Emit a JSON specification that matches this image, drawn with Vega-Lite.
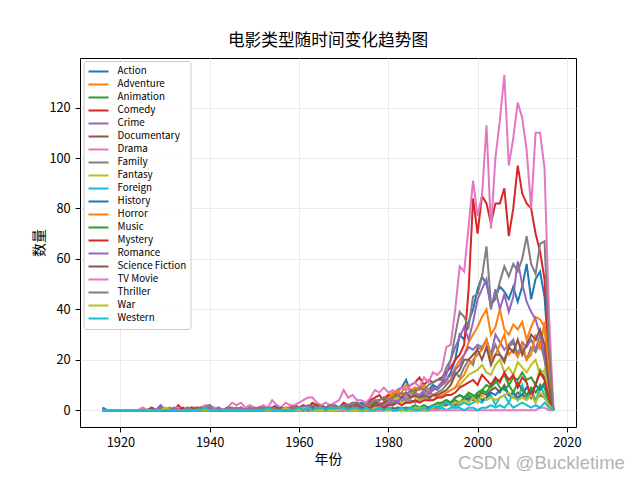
{
"$schema":"https://vega.github.io/schema/vega-lite/v6.json",
"width":496,"height":369,
"autosize":{"type":"none"},
"padding":{"left":80,"top":58,"right":64,"bottom":53},
"background":"white",
"title":{"text":"电影类型随时间变化趋势图","font":"Noto Sans CJK SC","fontSize":16.7,"fontWeight":"normal","color":"black","offset":8,"anchor":"middle"},
"config":{
"view":{"stroke":"black","strokeWidth":1},
"axis":{"domain":false,"tickColor":"black","tickSize":4.9,"tickWidth":1,"labelPadding":4.9,"labelFont":"Noto Sans CJK SC","labelFontSize":12.8,"labelColor":"black","titleFont":"Noto Sans CJK SC","titleFontSize":13.9,"titleFontWeight":"normal","titleColor":"black","gridColor":"#e6e6e6","gridWidth":0.8}
},
"layer":[
{
"data":{"values":[
{"g":"Action","t":1916,"n":0},{"g":"Action","t":1917,"n":0},{"g":"Action","t":1918,"n":0},{"g":"Action","t":1919,"n":0},{"g":"Action","t":1920,"n":0},{"g":"Action","t":1921,"n":0},{"g":"Action","t":1922,"n":0},{"g":"Action","t":1923,"n":0},{"g":"Action","t":1924,"n":0},{"g":"Action","t":1925,"n":0},{"g":"Action","t":1926,"n":0},{"g":"Action","t":1927,"n":0},{"g":"Action","t":1928,"n":0},{"g":"Action","t":1929,"n":0},{"g":"Action","t":1930,"n":0},{"g":"Action","t":1931,"n":0},{"g":"Action","t":1932,"n":0},{"g":"Action","t":1933,"n":0},{"g":"Action","t":1934,"n":0},{"g":"Action","t":1935,"n":0},{"g":"Action","t":1936,"n":0},{"g":"Action","t":1937,"n":0},{"g":"Action","t":1938,"n":0},{"g":"Action","t":1939,"n":0},{"g":"Action","t":1940,"n":0},{"g":"Action","t":1941,"n":0},{"g":"Action","t":1942,"n":0},{"g":"Action","t":1943,"n":0},{"g":"Action","t":1944,"n":0},{"g":"Action","t":1945,"n":0},{"g":"Action","t":1946,"n":0},{"g":"Action","t":1947,"n":0},{"g":"Action","t":1948,"n":0},{"g":"Action","t":1949,"n":0},{"g":"Action","t":1950,"n":0},{"g":"Action","t":1951,"n":0},{"g":"Action","t":1952,"n":0},{"g":"Action","t":1953,"n":0},{"g":"Action","t":1954,"n":1},{"g":"Action","t":1955,"n":0},{"g":"Action","t":1956,"n":0},{"g":"Action","t":1957,"n":0},{"g":"Action","t":1958,"n":0},{"g":"Action","t":1959,"n":1},{"g":"Action","t":1960,"n":1},{"g":"Action","t":1961,"n":0},{"g":"Action","t":1962,"n":1},{"g":"Action","t":1963,"n":1},{"g":"Action","t":1964,"n":2},{"g":"Action","t":1965,"n":1},{"g":"Action","t":1966,"n":1},{"g":"Action","t":1967,"n":2},{"g":"Action","t":1968,"n":1},{"g":"Action","t":1969,"n":1},{"g":"Action","t":1970,"n":1},{"g":"Action","t":1971,"n":2},{"g":"Action","t":1972,"n":2},{"g":"Action","t":1973,"n":2},{"g":"Action","t":1974,"n":3},{"g":"Action","t":1975,"n":2},{"g":"Action","t":1976,"n":3},{"g":"Action","t":1977,"n":3},{"g":"Action","t":1978,"n":4},{"g":"Action","t":1979,"n":5},{"g":"Action","t":1980,"n":5},{"g":"Action","t":1981,"n":6},{"g":"Action","t":1982,"n":8},{"g":"Action","t":1983,"n":9},{"g":"Action","t":1984,"n":12},{"g":"Action","t":1985,"n":7},{"g":"Action","t":1986,"n":8},{"g":"Action","t":1987,"n":9},{"g":"Action","t":1988,"n":10},{"g":"Action","t":1989,"n":8},{"g":"Action","t":1990,"n":10},{"g":"Action","t":1991,"n":9},{"g":"Action","t":1992,"n":11},{"g":"Action","t":1993,"n":12},{"g":"Action","t":1994,"n":15},{"g":"Action","t":1995,"n":20},{"g":"Action","t":1996,"n":30},{"g":"Action","t":1997,"n":28},{"g":"Action","t":1998,"n":35},{"g":"Action","t":1999,"n":40},{"g":"Action","t":2000,"n":48},{"g":"Action","t":2001,"n":53},{"g":"Action","t":2002,"n":50},{"g":"Action","t":2003,"n":42},{"g":"Action","t":2004,"n":45},{"g":"Action","t":2005,"n":49},{"g":"Action","t":2006,"n":47},{"g":"Action","t":2007,"n":44},{"g":"Action","t":2008,"n":49},{"g":"Action","t":2009,"n":43},{"g":"Action","t":2010,"n":49},{"g":"Action","t":2011,"n":58},{"g":"Action","t":2012,"n":44},{"g":"Action","t":2013,"n":52},{"g":"Action","t":2014,"n":55},{"g":"Action","t":2015,"n":45},{"g":"Action","t":2016,"n":20},{"g":"Action","t":2017,"n":0},
{"g":"Adventure","t":1916,"n":0},{"g":"Adventure","t":1917,"n":0},{"g":"Adventure","t":1918,"n":0},{"g":"Adventure","t":1919,"n":0},{"g":"Adventure","t":1920,"n":0},{"g":"Adventure","t":1921,"n":0},{"g":"Adventure","t":1922,"n":0},{"g":"Adventure","t":1923,"n":0},{"g":"Adventure","t":1924,"n":0},{"g":"Adventure","t":1925,"n":1},{"g":"Adventure","t":1926,"n":0},{"g":"Adventure","t":1927,"n":0},{"g":"Adventure","t":1928,"n":0},{"g":"Adventure","t":1929,"n":0},{"g":"Adventure","t":1930,"n":0},{"g":"Adventure","t":1931,"n":0},{"g":"Adventure","t":1932,"n":0},{"g":"Adventure","t":1933,"n":1},{"g":"Adventure","t":1934,"n":0},{"g":"Adventure","t":1935,"n":0},{"g":"Adventure","t":1936,"n":0},{"g":"Adventure","t":1937,"n":1},{"g":"Adventure","t":1938,"n":1},{"g":"Adventure","t":1939,"n":1},{"g":"Adventure","t":1940,"n":1},{"g":"Adventure","t":1941,"n":0},{"g":"Adventure","t":1942,"n":0},{"g":"Adventure","t":1943,"n":0},{"g":"Adventure","t":1944,"n":0},{"g":"Adventure","t":1945,"n":0},{"g":"Adventure","t":1946,"n":0},{"g":"Adventure","t":1947,"n":0},{"g":"Adventure","t":1948,"n":0},{"g":"Adventure","t":1949,"n":0},{"g":"Adventure","t":1950,"n":0},{"g":"Adventure","t":1951,"n":1},{"g":"Adventure","t":1952,"n":0},{"g":"Adventure","t":1953,"n":1},{"g":"Adventure","t":1954,"n":0},{"g":"Adventure","t":1955,"n":0},{"g":"Adventure","t":1956,"n":1},{"g":"Adventure","t":1957,"n":0},{"g":"Adventure","t":1958,"n":0},{"g":"Adventure","t":1959,"n":1},{"g":"Adventure","t":1960,"n":1},{"g":"Adventure","t":1961,"n":1},{"g":"Adventure","t":1962,"n":1},{"g":"Adventure","t":1963,"n":2},{"g":"Adventure","t":1964,"n":2},{"g":"Adventure","t":1965,"n":1},{"g":"Adventure","t":1966,"n":1},{"g":"Adventure","t":1967,"n":1},{"g":"Adventure","t":1968,"n":1},{"g":"Adventure","t":1969,"n":1},{"g":"Adventure","t":1970,"n":2},{"g":"Adventure","t":1971,"n":1},{"g":"Adventure","t":1972,"n":2},{"g":"Adventure","t":1973,"n":2},{"g":"Adventure","t":1974,"n":2},{"g":"Adventure","t":1975,"n":2},{"g":"Adventure","t":1976,"n":3},{"g":"Adventure","t":1977,"n":4},{"g":"Adventure","t":1978,"n":4},{"g":"Adventure","t":1979,"n":5},{"g":"Adventure","t":1980,"n":6},{"g":"Adventure","t":1981,"n":7},{"g":"Adventure","t":1982,"n":6},{"g":"Adventure","t":1983,"n":7},{"g":"Adventure","t":1984,"n":10},{"g":"Adventure","t":1985,"n":8},{"g":"Adventure","t":1986,"n":9},{"g":"Adventure","t":1987,"n":8},{"g":"Adventure","t":1988,"n":9},{"g":"Adventure","t":1989,"n":7},{"g":"Adventure","t":1990,"n":8},{"g":"Adventure","t":1991,"n":9},{"g":"Adventure","t":1992,"n":10},{"g":"Adventure","t":1993,"n":11},{"g":"Adventure","t":1994,"n":12},{"g":"Adventure","t":1995,"n":17},{"g":"Adventure","t":1996,"n":20},{"g":"Adventure","t":1997,"n":22},{"g":"Adventure","t":1998,"n":27},{"g":"Adventure","t":1999,"n":30},{"g":"Adventure","t":2000,"n":33},{"g":"Adventure","t":2001,"n":37},{"g":"Adventure","t":2002,"n":40},{"g":"Adventure","t":2003,"n":30},{"g":"Adventure","t":2004,"n":33},{"g":"Adventure","t":2005,"n":40},{"g":"Adventure","t":2006,"n":32},{"g":"Adventure","t":2007,"n":30},{"g":"Adventure","t":2008,"n":34},{"g":"Adventure","t":2009,"n":32},{"g":"Adventure","t":2010,"n":35},{"g":"Adventure","t":2011,"n":28},{"g":"Adventure","t":2012,"n":33},{"g":"Adventure","t":2013,"n":37},{"g":"Adventure","t":2014,"n":36},{"g":"Adventure","t":2015,"n":33},{"g":"Adventure","t":2016,"n":12},{"g":"Adventure","t":2017,"n":0},
{"g":"Animation","t":1916,"n":0},{"g":"Animation","t":1917,"n":0},{"g":"Animation","t":1918,"n":0},{"g":"Animation","t":1919,"n":0},{"g":"Animation","t":1920,"n":0},{"g":"Animation","t":1921,"n":0},{"g":"Animation","t":1922,"n":0},{"g":"Animation","t":1923,"n":0},{"g":"Animation","t":1924,"n":0},{"g":"Animation","t":1925,"n":0},{"g":"Animation","t":1926,"n":0},{"g":"Animation","t":1927,"n":0},{"g":"Animation","t":1928,"n":0},{"g":"Animation","t":1929,"n":0},{"g":"Animation","t":1930,"n":0},{"g":"Animation","t":1931,"n":0},{"g":"Animation","t":1932,"n":0},{"g":"Animation","t":1933,"n":0},{"g":"Animation","t":1934,"n":0},{"g":"Animation","t":1935,"n":0},{"g":"Animation","t":1936,"n":0},{"g":"Animation","t":1937,"n":1},{"g":"Animation","t":1938,"n":0},{"g":"Animation","t":1939,"n":0},{"g":"Animation","t":1940,"n":1},{"g":"Animation","t":1941,"n":0},{"g":"Animation","t":1942,"n":0},{"g":"Animation","t":1943,"n":0},{"g":"Animation","t":1944,"n":0},{"g":"Animation","t":1945,"n":0},{"g":"Animation","t":1946,"n":0},{"g":"Animation","t":1947,"n":0},{"g":"Animation","t":1948,"n":0},{"g":"Animation","t":1949,"n":0},{"g":"Animation","t":1950,"n":1},{"g":"Animation","t":1951,"n":0},{"g":"Animation","t":1952,"n":0},{"g":"Animation","t":1953,"n":1},{"g":"Animation","t":1954,"n":0},{"g":"Animation","t":1955,"n":1},{"g":"Animation","t":1956,"n":0},{"g":"Animation","t":1957,"n":0},{"g":"Animation","t":1958,"n":0},{"g":"Animation","t":1959,"n":1},{"g":"Animation","t":1960,"n":0},{"g":"Animation","t":1961,"n":1},{"g":"Animation","t":1962,"n":0},{"g":"Animation","t":1963,"n":0},{"g":"Animation","t":1964,"n":0},{"g":"Animation","t":1965,"n":0},{"g":"Animation","t":1966,"n":0},{"g":"Animation","t":1967,"n":1},{"g":"Animation","t":1968,"n":0},{"g":"Animation","t":1969,"n":0},{"g":"Animation","t":1970,"n":0},{"g":"Animation","t":1971,"n":0},{"g":"Animation","t":1972,"n":0},{"g":"Animation","t":1973,"n":1},{"g":"Animation","t":1974,"n":0},{"g":"Animation","t":1975,"n":0},{"g":"Animation","t":1976,"n":0},{"g":"Animation","t":1977,"n":1},{"g":"Animation","t":1978,"n":1},{"g":"Animation","t":1979,"n":0},{"g":"Animation","t":1980,"n":1},{"g":"Animation","t":1981,"n":0},{"g":"Animation","t":1982,"n":1},{"g":"Animation","t":1983,"n":0},{"g":"Animation","t":1984,"n":1},{"g":"Animation","t":1985,"n":1},{"g":"Animation","t":1986,"n":2},{"g":"Animation","t":1987,"n":1},{"g":"Animation","t":1988,"n":2},{"g":"Animation","t":1989,"n":1},{"g":"Animation","t":1990,"n":2},{"g":"Animation","t":1991,"n":1},{"g":"Animation","t":1992,"n":2},{"g":"Animation","t":1993,"n":2},{"g":"Animation","t":1994,"n":3},{"g":"Animation","t":1995,"n":4},{"g":"Animation","t":1996,"n":3},{"g":"Animation","t":1997,"n":5},{"g":"Animation","t":1998,"n":6},{"g":"Animation","t":1999,"n":5},{"g":"Animation","t":2000,"n":7},{"g":"Animation","t":2001,"n":8},{"g":"Animation","t":2002,"n":10},{"g":"Animation","t":2003,"n":9},{"g":"Animation","t":2004,"n":11},{"g":"Animation","t":2005,"n":12},{"g":"Animation","t":2006,"n":14},{"g":"Animation","t":2007,"n":10},{"g":"Animation","t":2008,"n":13},{"g":"Animation","t":2009,"n":12},{"g":"Animation","t":2010,"n":15},{"g":"Animation","t":2011,"n":12},{"g":"Animation","t":2012,"n":13},{"g":"Animation","t":2013,"n":10},{"g":"Animation","t":2014,"n":16},{"g":"Animation","t":2015,"n":13},{"g":"Animation","t":2016,"n":5},{"g":"Animation","t":2017,"n":0},
{"g":"Comedy","t":1916,"n":0},{"g":"Comedy","t":1917,"n":0},{"g":"Comedy","t":1918,"n":0},{"g":"Comedy","t":1919,"n":0},{"g":"Comedy","t":1920,"n":0},{"g":"Comedy","t":1921,"n":0},{"g":"Comedy","t":1922,"n":0},{"g":"Comedy","t":1923,"n":0},{"g":"Comedy","t":1924,"n":0},{"g":"Comedy","t":1925,"n":0},{"g":"Comedy","t":1926,"n":0},{"g":"Comedy","t":1927,"n":0},{"g":"Comedy","t":1928,"n":0},{"g":"Comedy","t":1929,"n":0},{"g":"Comedy","t":1930,"n":0},{"g":"Comedy","t":1931,"n":0},{"g":"Comedy","t":1932,"n":0},{"g":"Comedy","t":1933,"n":2},{"g":"Comedy","t":1934,"n":0},{"g":"Comedy","t":1935,"n":0},{"g":"Comedy","t":1936,"n":1},{"g":"Comedy","t":1937,"n":1},{"g":"Comedy","t":1938,"n":1},{"g":"Comedy","t":1939,"n":0},{"g":"Comedy","t":1940,"n":1},{"g":"Comedy","t":1941,"n":0},{"g":"Comedy","t":1942,"n":1},{"g":"Comedy","t":1943,"n":0},{"g":"Comedy","t":1944,"n":1},{"g":"Comedy","t":1945,"n":0},{"g":"Comedy","t":1946,"n":0},{"g":"Comedy","t":1947,"n":1},{"g":"Comedy","t":1948,"n":0},{"g":"Comedy","t":1949,"n":1},{"g":"Comedy","t":1950,"n":0},{"g":"Comedy","t":1951,"n":1},{"g":"Comedy","t":1952,"n":1},{"g":"Comedy","t":1953,"n":1},{"g":"Comedy","t":1954,"n":1},{"g":"Comedy","t":1955,"n":2},{"g":"Comedy","t":1956,"n":0},{"g":"Comedy","t":1957,"n":1},{"g":"Comedy","t":1958,"n":1},{"g":"Comedy","t":1959,"n":2},{"g":"Comedy","t":1960,"n":1},{"g":"Comedy","t":1961,"n":2},{"g":"Comedy","t":1962,"n":1},{"g":"Comedy","t":1963,"n":3},{"g":"Comedy","t":1964,"n":2},{"g":"Comedy","t":1965,"n":2},{"g":"Comedy","t":1966,"n":1},{"g":"Comedy","t":1967,"n":2},{"g":"Comedy","t":1968,"n":2},{"g":"Comedy","t":1969,"n":1},{"g":"Comedy","t":1970,"n":3},{"g":"Comedy","t":1971,"n":2},{"g":"Comedy","t":1972,"n":2},{"g":"Comedy","t":1973,"n":3},{"g":"Comedy","t":1974,"n":2},{"g":"Comedy","t":1975,"n":2},{"g":"Comedy","t":1976,"n":4},{"g":"Comedy","t":1977,"n":5},{"g":"Comedy","t":1978,"n":6},{"g":"Comedy","t":1979,"n":4},{"g":"Comedy","t":1980,"n":6},{"g":"Comedy","t":1981,"n":5},{"g":"Comedy","t":1982,"n":7},{"g":"Comedy","t":1983,"n":9},{"g":"Comedy","t":1984,"n":8},{"g":"Comedy","t":1985,"n":10},{"g":"Comedy","t":1986,"n":11},{"g":"Comedy","t":1987,"n":13},{"g":"Comedy","t":1988,"n":10},{"g":"Comedy","t":1989,"n":12},{"g":"Comedy","t":1990,"n":11},{"g":"Comedy","t":1991,"n":12},{"g":"Comedy","t":1992,"n":13},{"g":"Comedy","t":1993,"n":15},{"g":"Comedy","t":1994,"n":17},{"g":"Comedy","t":1995,"n":20},{"g":"Comedy","t":1996,"n":22},{"g":"Comedy","t":1997,"n":26},{"g":"Comedy","t":1998,"n":48},{"g":"Comedy","t":1999,"n":84},{"g":"Comedy","t":2000,"n":70},{"g":"Comedy","t":2001,"n":85},{"g":"Comedy","t":2002,"n":82},{"g":"Comedy","t":2003,"n":74},{"g":"Comedy","t":2004,"n":82},{"g":"Comedy","t":2005,"n":82},{"g":"Comedy","t":2006,"n":88},{"g":"Comedy","t":2007,"n":69},{"g":"Comedy","t":2008,"n":80},{"g":"Comedy","t":2009,"n":97},{"g":"Comedy","t":2010,"n":86},{"g":"Comedy","t":2011,"n":82},{"g":"Comedy","t":2012,"n":80},{"g":"Comedy","t":2013,"n":70},{"g":"Comedy","t":2014,"n":63},{"g":"Comedy","t":2015,"n":52},{"g":"Comedy","t":2016,"n":20},{"g":"Comedy","t":2017,"n":0},
{"g":"Crime","t":1916,"n":0},{"g":"Crime","t":1917,"n":0},{"g":"Crime","t":1918,"n":0},{"g":"Crime","t":1919,"n":0},{"g":"Crime","t":1920,"n":0},{"g":"Crime","t":1921,"n":0},{"g":"Crime","t":1922,"n":0},{"g":"Crime","t":1923,"n":0},{"g":"Crime","t":1924,"n":0},{"g":"Crime","t":1925,"n":0},{"g":"Crime","t":1926,"n":0},{"g":"Crime","t":1927,"n":0},{"g":"Crime","t":1928,"n":0},{"g":"Crime","t":1929,"n":2},{"g":"Crime","t":1930,"n":0},{"g":"Crime","t":1931,"n":1},{"g":"Crime","t":1932,"n":0},{"g":"Crime","t":1933,"n":0},{"g":"Crime","t":1934,"n":0},{"g":"Crime","t":1935,"n":0},{"g":"Crime","t":1936,"n":1},{"g":"Crime","t":1937,"n":0},{"g":"Crime","t":1938,"n":0},{"g":"Crime","t":1939,"n":0},{"g":"Crime","t":1940,"n":1},{"g":"Crime","t":1941,"n":0},{"g":"Crime","t":1942,"n":0},{"g":"Crime","t":1943,"n":0},{"g":"Crime","t":1944,"n":1},{"g":"Crime","t":1945,"n":0},{"g":"Crime","t":1946,"n":1},{"g":"Crime","t":1947,"n":0},{"g":"Crime","t":1948,"n":0},{"g":"Crime","t":1949,"n":1},{"g":"Crime","t":1950,"n":0},{"g":"Crime","t":1951,"n":0},{"g":"Crime","t":1952,"n":1},{"g":"Crime","t":1953,"n":0},{"g":"Crime","t":1954,"n":0},{"g":"Crime","t":1955,"n":1},{"g":"Crime","t":1956,"n":0},{"g":"Crime","t":1957,"n":1},{"g":"Crime","t":1958,"n":0},{"g":"Crime","t":1959,"n":0},{"g":"Crime","t":1960,"n":0},{"g":"Crime","t":1961,"n":1},{"g":"Crime","t":1962,"n":0},{"g":"Crime","t":1963,"n":1},{"g":"Crime","t":1964,"n":1},{"g":"Crime","t":1965,"n":0},{"g":"Crime","t":1966,"n":1},{"g":"Crime","t":1967,"n":1},{"g":"Crime","t":1968,"n":1},{"g":"Crime","t":1969,"n":0},{"g":"Crime","t":1970,"n":2},{"g":"Crime","t":1971,"n":2},{"g":"Crime","t":1972,"n":3},{"g":"Crime","t":1973,"n":3},{"g":"Crime","t":1974,"n":2},{"g":"Crime","t":1975,"n":2},{"g":"Crime","t":1976,"n":2},{"g":"Crime","t":1977,"n":3},{"g":"Crime","t":1978,"n":3},{"g":"Crime","t":1979,"n":2},{"g":"Crime","t":1980,"n":3},{"g":"Crime","t":1981,"n":3},{"g":"Crime","t":1982,"n":4},{"g":"Crime","t":1983,"n":5},{"g":"Crime","t":1984,"n":5},{"g":"Crime","t":1985,"n":6},{"g":"Crime","t":1986,"n":7},{"g":"Crime","t":1987,"n":6},{"g":"Crime","t":1988,"n":8},{"g":"Crime","t":1989,"n":7},{"g":"Crime","t":1990,"n":9},{"g":"Crime","t":1991,"n":8},{"g":"Crime","t":1992,"n":10},{"g":"Crime","t":1993,"n":12},{"g":"Crime","t":1994,"n":14},{"g":"Crime","t":1995,"n":16},{"g":"Crime","t":1996,"n":18},{"g":"Crime","t":1997,"n":22},{"g":"Crime","t":1998,"n":25},{"g":"Crime","t":1999,"n":24},{"g":"Crime","t":2000,"n":26},{"g":"Crime","t":2001,"n":25},{"g":"Crime","t":2002,"n":28},{"g":"Crime","t":2003,"n":22},{"g":"Crime","t":2004,"n":30},{"g":"Crime","t":2005,"n":27},{"g":"Crime","t":2006,"n":24},{"g":"Crime","t":2007,"n":26},{"g":"Crime","t":2008,"n":28},{"g":"Crime","t":2009,"n":22},{"g":"Crime","t":2010,"n":27},{"g":"Crime","t":2011,"n":25},{"g":"Crime","t":2012,"n":28},{"g":"Crime","t":2013,"n":24},{"g":"Crime","t":2014,"n":30},{"g":"Crime","t":2015,"n":26},{"g":"Crime","t":2016,"n":10},{"g":"Crime","t":2017,"n":0},
{"g":"Documentary","t":1916,"n":0},{"g":"Documentary","t":1917,"n":0},{"g":"Documentary","t":1918,"n":0},{"g":"Documentary","t":1919,"n":0},{"g":"Documentary","t":1920,"n":0},{"g":"Documentary","t":1921,"n":0},{"g":"Documentary","t":1922,"n":0},{"g":"Documentary","t":1923,"n":0},{"g":"Documentary","t":1924,"n":0},{"g":"Documentary","t":1925,"n":0},{"g":"Documentary","t":1926,"n":0},{"g":"Documentary","t":1927,"n":0},{"g":"Documentary","t":1928,"n":0},{"g":"Documentary","t":1929,"n":0},{"g":"Documentary","t":1930,"n":0},{"g":"Documentary","t":1931,"n":0},{"g":"Documentary","t":1932,"n":0},{"g":"Documentary","t":1933,"n":0},{"g":"Documentary","t":1934,"n":0},{"g":"Documentary","t":1935,"n":0},{"g":"Documentary","t":1936,"n":0},{"g":"Documentary","t":1937,"n":0},{"g":"Documentary","t":1938,"n":0},{"g":"Documentary","t":1939,"n":0},{"g":"Documentary","t":1940,"n":0},{"g":"Documentary","t":1941,"n":0},{"g":"Documentary","t":1942,"n":0},{"g":"Documentary","t":1943,"n":0},{"g":"Documentary","t":1944,"n":0},{"g":"Documentary","t":1945,"n":0},{"g":"Documentary","t":1946,"n":0},{"g":"Documentary","t":1947,"n":0},{"g":"Documentary","t":1948,"n":0},{"g":"Documentary","t":1949,"n":0},{"g":"Documentary","t":1950,"n":0},{"g":"Documentary","t":1951,"n":0},{"g":"Documentary","t":1952,"n":0},{"g":"Documentary","t":1953,"n":0},{"g":"Documentary","t":1954,"n":0},{"g":"Documentary","t":1955,"n":0},{"g":"Documentary","t":1956,"n":0},{"g":"Documentary","t":1957,"n":0},{"g":"Documentary","t":1958,"n":0},{"g":"Documentary","t":1959,"n":0},{"g":"Documentary","t":1960,"n":0},{"g":"Documentary","t":1961,"n":0},{"g":"Documentary","t":1962,"n":0},{"g":"Documentary","t":1963,"n":0},{"g":"Documentary","t":1964,"n":0},{"g":"Documentary","t":1965,"n":0},{"g":"Documentary","t":1966,"n":0},{"g":"Documentary","t":1967,"n":0},{"g":"Documentary","t":1968,"n":0},{"g":"Documentary","t":1969,"n":1},{"g":"Documentary","t":1970,"n":1},{"g":"Documentary","t":1971,"n":0},{"g":"Documentary","t":1972,"n":0},{"g":"Documentary","t":1973,"n":0},{"g":"Documentary","t":1974,"n":0},{"g":"Documentary","t":1975,"n":0},{"g":"Documentary","t":1976,"n":0},{"g":"Documentary","t":1977,"n":0},{"g":"Documentary","t":1978,"n":0},{"g":"Documentary","t":1979,"n":1},{"g":"Documentary","t":1980,"n":0},{"g":"Documentary","t":1981,"n":1},{"g":"Documentary","t":1982,"n":0},{"g":"Documentary","t":1983,"n":0},{"g":"Documentary","t":1984,"n":1},{"g":"Documentary","t":1985,"n":0},{"g":"Documentary","t":1986,"n":0},{"g":"Documentary","t":1987,"n":0},{"g":"Documentary","t":1988,"n":0},{"g":"Documentary","t":1989,"n":1},{"g":"Documentary","t":1990,"n":1},{"g":"Documentary","t":1991,"n":1},{"g":"Documentary","t":1992,"n":2},{"g":"Documentary","t":1993,"n":2},{"g":"Documentary","t":1994,"n":3},{"g":"Documentary","t":1995,"n":2},{"g":"Documentary","t":1996,"n":3},{"g":"Documentary","t":1997,"n":4},{"g":"Documentary","t":1998,"n":5},{"g":"Documentary","t":1999,"n":4},{"g":"Documentary","t":2000,"n":5},{"g":"Documentary","t":2001,"n":7},{"g":"Documentary","t":2002,"n":6},{"g":"Documentary","t":2003,"n":8},{"g":"Documentary","t":2004,"n":9},{"g":"Documentary","t":2005,"n":7},{"g":"Documentary","t":2006,"n":10},{"g":"Documentary","t":2007,"n":6},{"g":"Documentary","t":2008,"n":5},{"g":"Documentary","t":2009,"n":7},{"g":"Documentary","t":2010,"n":6},{"g":"Documentary","t":2011,"n":5},{"g":"Documentary","t":2012,"n":8},{"g":"Documentary","t":2013,"n":4},{"g":"Documentary","t":2014,"n":6},{"g":"Documentary","t":2015,"n":5},{"g":"Documentary","t":2016,"n":2},{"g":"Documentary","t":2017,"n":0},
{"g":"Drama","t":1916,"n":1},{"g":"Drama","t":1917,"n":0},{"g":"Drama","t":1918,"n":0},{"g":"Drama","t":1919,"n":0},{"g":"Drama","t":1920,"n":0},{"g":"Drama","t":1921,"n":0},{"g":"Drama","t":1922,"n":0},{"g":"Drama","t":1923,"n":0},{"g":"Drama","t":1924,"n":0},{"g":"Drama","t":1925,"n":1},{"g":"Drama","t":1926,"n":0},{"g":"Drama","t":1927,"n":1},{"g":"Drama","t":1928,"n":0},{"g":"Drama","t":1929,"n":1},{"g":"Drama","t":1930,"n":1},{"g":"Drama","t":1931,"n":0},{"g":"Drama","t":1932,"n":1},{"g":"Drama","t":1933,"n":1},{"g":"Drama","t":1934,"n":0},{"g":"Drama","t":1935,"n":1},{"g":"Drama","t":1936,"n":1},{"g":"Drama","t":1937,"n":0},{"g":"Drama","t":1938,"n":1},{"g":"Drama","t":1939,"n":2},{"g":"Drama","t":1940,"n":2},{"g":"Drama","t":1941,"n":1},{"g":"Drama","t":1942,"n":1},{"g":"Drama","t":1943,"n":0},{"g":"Drama","t":1944,"n":1},{"g":"Drama","t":1945,"n":3},{"g":"Drama","t":1946,"n":2},{"g":"Drama","t":1947,"n":3},{"g":"Drama","t":1948,"n":1},{"g":"Drama","t":1949,"n":2},{"g":"Drama","t":1950,"n":1},{"g":"Drama","t":1951,"n":1},{"g":"Drama","t":1952,"n":2},{"g":"Drama","t":1953,"n":1},{"g":"Drama","t":1954,"n":4},{"g":"Drama","t":1955,"n":2},{"g":"Drama","t":1956,"n":1},{"g":"Drama","t":1957,"n":3},{"g":"Drama","t":1958,"n":2},{"g":"Drama","t":1959,"n":2},{"g":"Drama","t":1960,"n":3},{"g":"Drama","t":1961,"n":4},{"g":"Drama","t":1962,"n":5},{"g":"Drama","t":1963,"n":5},{"g":"Drama","t":1964,"n":3},{"g":"Drama","t":1965,"n":2},{"g":"Drama","t":1966,"n":3},{"g":"Drama","t":1967,"n":2},{"g":"Drama","t":1968,"n":3},{"g":"Drama","t":1969,"n":4},{"g":"Drama","t":1970,"n":8},{"g":"Drama","t":1971,"n":5},{"g":"Drama","t":1972,"n":6},{"g":"Drama","t":1973,"n":4},{"g":"Drama","t":1974,"n":4},{"g":"Drama","t":1975,"n":3},{"g":"Drama","t":1976,"n":5},{"g":"Drama","t":1977,"n":8},{"g":"Drama","t":1978,"n":7},{"g":"Drama","t":1979,"n":9},{"g":"Drama","t":1980,"n":7},{"g":"Drama","t":1981,"n":8},{"g":"Drama","t":1982,"n":7},{"g":"Drama","t":1983,"n":9},{"g":"Drama","t":1984,"n":8},{"g":"Drama","t":1985,"n":10},{"g":"Drama","t":1986,"n":11},{"g":"Drama","t":1987,"n":9},{"g":"Drama","t":1988,"n":13},{"g":"Drama","t":1989,"n":11},{"g":"Drama","t":1990,"n":15},{"g":"Drama","t":1991,"n":14},{"g":"Drama","t":1992,"n":16},{"g":"Drama","t":1993,"n":25},{"g":"Drama","t":1994,"n":26},{"g":"Drama","t":1995,"n":40},{"g":"Drama","t":1996,"n":57},{"g":"Drama","t":1997,"n":55},{"g":"Drama","t":1998,"n":73},{"g":"Drama","t":1999,"n":91},{"g":"Drama","t":2000,"n":77},{"g":"Drama","t":2001,"n":85},{"g":"Drama","t":2002,"n":113},{"g":"Drama","t":2003,"n":72},{"g":"Drama","t":2004,"n":100},{"g":"Drama","t":2005,"n":115},{"g":"Drama","t":2006,"n":133},{"g":"Drama","t":2007,"n":97},{"g":"Drama","t":2008,"n":108},{"g":"Drama","t":2009,"n":122},{"g":"Drama","t":2010,"n":116},{"g":"Drama","t":2011,"n":103},{"g":"Drama","t":2012,"n":80},{"g":"Drama","t":2013,"n":110},{"g":"Drama","t":2014,"n":110},{"g":"Drama","t":2015,"n":96},{"g":"Drama","t":2016,"n":38},{"g":"Drama","t":2017,"n":0},
{"g":"Family","t":1916,"n":0},{"g":"Family","t":1917,"n":0},{"g":"Family","t":1918,"n":0},{"g":"Family","t":1919,"n":0},{"g":"Family","t":1920,"n":0},{"g":"Family","t":1921,"n":0},{"g":"Family","t":1922,"n":0},{"g":"Family","t":1923,"n":0},{"g":"Family","t":1924,"n":0},{"g":"Family","t":1925,"n":0},{"g":"Family","t":1926,"n":0},{"g":"Family","t":1927,"n":0},{"g":"Family","t":1928,"n":0},{"g":"Family","t":1929,"n":0},{"g":"Family","t":1930,"n":0},{"g":"Family","t":1931,"n":0},{"g":"Family","t":1932,"n":0},{"g":"Family","t":1933,"n":0},{"g":"Family","t":1934,"n":0},{"g":"Family","t":1935,"n":0},{"g":"Family","t":1936,"n":0},{"g":"Family","t":1937,"n":1},{"g":"Family","t":1938,"n":0},{"g":"Family","t":1939,"n":1},{"g":"Family","t":1940,"n":2},{"g":"Family","t":1941,"n":0},{"g":"Family","t":1942,"n":0},{"g":"Family","t":1943,"n":0},{"g":"Family","t":1944,"n":0},{"g":"Family","t":1945,"n":0},{"g":"Family","t":1946,"n":0},{"g":"Family","t":1947,"n":0},{"g":"Family","t":1948,"n":0},{"g":"Family","t":1949,"n":0},{"g":"Family","t":1950,"n":1},{"g":"Family","t":1951,"n":0},{"g":"Family","t":1952,"n":0},{"g":"Family","t":1953,"n":1},{"g":"Family","t":1954,"n":0},{"g":"Family","t":1955,"n":0},{"g":"Family","t":1956,"n":0},{"g":"Family","t":1957,"n":0},{"g":"Family","t":1958,"n":0},{"g":"Family","t":1959,"n":0},{"g":"Family","t":1960,"n":1},{"g":"Family","t":1961,"n":1},{"g":"Family","t":1962,"n":0},{"g":"Family","t":1963,"n":1},{"g":"Family","t":1964,"n":1},{"g":"Family","t":1965,"n":1},{"g":"Family","t":1966,"n":0},{"g":"Family","t":1967,"n":1},{"g":"Family","t":1968,"n":1},{"g":"Family","t":1969,"n":0},{"g":"Family","t":1970,"n":1},{"g":"Family","t":1971,"n":1},{"g":"Family","t":1972,"n":2},{"g":"Family","t":1973,"n":1},{"g":"Family","t":1974,"n":1},{"g":"Family","t":1975,"n":1},{"g":"Family","t":1976,"n":2},{"g":"Family","t":1977,"n":1},{"g":"Family","t":1978,"n":2},{"g":"Family","t":1979,"n":2},{"g":"Family","t":1980,"n":2},{"g":"Family","t":1981,"n":3},{"g":"Family","t":1982,"n":3},{"g":"Family","t":1983,"n":4},{"g":"Family","t":1984,"n":3},{"g":"Family","t":1985,"n":4},{"g":"Family","t":1986,"n":3},{"g":"Family","t":1987,"n":4},{"g":"Family","t":1988,"n":5},{"g":"Family","t":1989,"n":4},{"g":"Family","t":1990,"n":6},{"g":"Family","t":1991,"n":7},{"g":"Family","t":1992,"n":8},{"g":"Family","t":1993,"n":10},{"g":"Family","t":1994,"n":12},{"g":"Family","t":1995,"n":15},{"g":"Family","t":1996,"n":13},{"g":"Family","t":1997,"n":17},{"g":"Family","t":1998,"n":20},{"g":"Family","t":1999,"n":18},{"g":"Family","t":2000,"n":25},{"g":"Family","t":2001,"n":24},{"g":"Family","t":2002,"n":28},{"g":"Family","t":2003,"n":21},{"g":"Family","t":2004,"n":26},{"g":"Family","t":2005,"n":22},{"g":"Family","t":2006,"n":20},{"g":"Family","t":2007,"n":25},{"g":"Family","t":2008,"n":27},{"g":"Family","t":2009,"n":22},{"g":"Family","t":2010,"n":24},{"g":"Family","t":2011,"n":20},{"g":"Family","t":2012,"n":25},{"g":"Family","t":2013,"n":23},{"g":"Family","t":2014,"n":27},{"g":"Family","t":2015,"n":20},{"g":"Family","t":2016,"n":8},{"g":"Family","t":2017,"n":0},
{"g":"Fantasy","t":1916,"n":0},{"g":"Fantasy","t":1917,"n":0},{"g":"Fantasy","t":1918,"n":0},{"g":"Fantasy","t":1919,"n":0},{"g":"Fantasy","t":1920,"n":0},{"g":"Fantasy","t":1921,"n":0},{"g":"Fantasy","t":1922,"n":0},{"g":"Fantasy","t":1923,"n":0},{"g":"Fantasy","t":1924,"n":0},{"g":"Fantasy","t":1925,"n":0},{"g":"Fantasy","t":1926,"n":0},{"g":"Fantasy","t":1927,"n":0},{"g":"Fantasy","t":1928,"n":0},{"g":"Fantasy","t":1929,"n":0},{"g":"Fantasy","t":1930,"n":0},{"g":"Fantasy","t":1931,"n":0},{"g":"Fantasy","t":1932,"n":0},{"g":"Fantasy","t":1933,"n":0},{"g":"Fantasy","t":1934,"n":0},{"g":"Fantasy","t":1935,"n":0},{"g":"Fantasy","t":1936,"n":0},{"g":"Fantasy","t":1937,"n":0},{"g":"Fantasy","t":1938,"n":0},{"g":"Fantasy","t":1939,"n":1},{"g":"Fantasy","t":1940,"n":1},{"g":"Fantasy","t":1941,"n":0},{"g":"Fantasy","t":1942,"n":0},{"g":"Fantasy","t":1943,"n":0},{"g":"Fantasy","t":1944,"n":0},{"g":"Fantasy","t":1945,"n":0},{"g":"Fantasy","t":1946,"n":1},{"g":"Fantasy","t":1947,"n":0},{"g":"Fantasy","t":1948,"n":0},{"g":"Fantasy","t":1949,"n":0},{"g":"Fantasy","t":1950,"n":0},{"g":"Fantasy","t":1951,"n":0},{"g":"Fantasy","t":1952,"n":0},{"g":"Fantasy","t":1953,"n":0},{"g":"Fantasy","t":1954,"n":0},{"g":"Fantasy","t":1955,"n":0},{"g":"Fantasy","t":1956,"n":0},{"g":"Fantasy","t":1957,"n":0},{"g":"Fantasy","t":1958,"n":0},{"g":"Fantasy","t":1959,"n":0},{"g":"Fantasy","t":1960,"n":0},{"g":"Fantasy","t":1961,"n":0},{"g":"Fantasy","t":1962,"n":1},{"g":"Fantasy","t":1963,"n":0},{"g":"Fantasy","t":1964,"n":1},{"g":"Fantasy","t":1965,"n":0},{"g":"Fantasy","t":1966,"n":0},{"g":"Fantasy","t":1967,"n":1},{"g":"Fantasy","t":1968,"n":0},{"g":"Fantasy","t":1969,"n":1},{"g":"Fantasy","t":1970,"n":1},{"g":"Fantasy","t":1971,"n":1},{"g":"Fantasy","t":1972,"n":1},{"g":"Fantasy","t":1973,"n":1},{"g":"Fantasy","t":1974,"n":1},{"g":"Fantasy","t":1975,"n":2},{"g":"Fantasy","t":1976,"n":1},{"g":"Fantasy","t":1977,"n":2},{"g":"Fantasy","t":1978,"n":2},{"g":"Fantasy","t":1979,"n":2},{"g":"Fantasy","t":1980,"n":3},{"g":"Fantasy","t":1981,"n":4},{"g":"Fantasy","t":1982,"n":5},{"g":"Fantasy","t":1983,"n":3},{"g":"Fantasy","t":1984,"n":4},{"g":"Fantasy","t":1985,"n":6},{"g":"Fantasy","t":1986,"n":5},{"g":"Fantasy","t":1987,"n":4},{"g":"Fantasy","t":1988,"n":6},{"g":"Fantasy","t":1989,"n":4},{"g":"Fantasy","t":1990,"n":4},{"g":"Fantasy","t":1991,"n":5},{"g":"Fantasy","t":1992,"n":6},{"g":"Fantasy","t":1993,"n":7},{"g":"Fantasy","t":1994,"n":8},{"g":"Fantasy","t":1995,"n":9},{"g":"Fantasy","t":1996,"n":10},{"g":"Fantasy","t":1997,"n":12},{"g":"Fantasy","t":1998,"n":14},{"g":"Fantasy","t":1999,"n":15},{"g":"Fantasy","t":2000,"n":16},{"g":"Fantasy","t":2001,"n":18},{"g":"Fantasy","t":2002,"n":15},{"g":"Fantasy","t":2003,"n":14},{"g":"Fantasy","t":2004,"n":18},{"g":"Fantasy","t":2005,"n":20},{"g":"Fantasy","t":2006,"n":15},{"g":"Fantasy","t":2007,"n":17},{"g":"Fantasy","t":2008,"n":14},{"g":"Fantasy","t":2009,"n":19},{"g":"Fantasy","t":2010,"n":17},{"g":"Fantasy","t":2011,"n":15},{"g":"Fantasy","t":2012,"n":18},{"g":"Fantasy","t":2013,"n":20},{"g":"Fantasy","t":2014,"n":14},{"g":"Fantasy","t":2015,"n":16},{"g":"Fantasy","t":2016,"n":6},{"g":"Fantasy","t":2017,"n":0},
{"g":"Foreign","t":1916,"n":0},{"g":"Foreign","t":1917,"n":0},{"g":"Foreign","t":1918,"n":0},{"g":"Foreign","t":1919,"n":0},{"g":"Foreign","t":1920,"n":0},{"g":"Foreign","t":1921,"n":0},{"g":"Foreign","t":1922,"n":0},{"g":"Foreign","t":1923,"n":0},{"g":"Foreign","t":1924,"n":0},{"g":"Foreign","t":1925,"n":0},{"g":"Foreign","t":1926,"n":0},{"g":"Foreign","t":1927,"n":0},{"g":"Foreign","t":1928,"n":0},{"g":"Foreign","t":1929,"n":0},{"g":"Foreign","t":1930,"n":0},{"g":"Foreign","t":1931,"n":0},{"g":"Foreign","t":1932,"n":0},{"g":"Foreign","t":1933,"n":0},{"g":"Foreign","t":1934,"n":0},{"g":"Foreign","t":1935,"n":0},{"g":"Foreign","t":1936,"n":0},{"g":"Foreign","t":1937,"n":0},{"g":"Foreign","t":1938,"n":0},{"g":"Foreign","t":1939,"n":0},{"g":"Foreign","t":1940,"n":0},{"g":"Foreign","t":1941,"n":0},{"g":"Foreign","t":1942,"n":0},{"g":"Foreign","t":1943,"n":0},{"g":"Foreign","t":1944,"n":0},{"g":"Foreign","t":1945,"n":0},{"g":"Foreign","t":1946,"n":0},{"g":"Foreign","t":1947,"n":0},{"g":"Foreign","t":1948,"n":0},{"g":"Foreign","t":1949,"n":0},{"g":"Foreign","t":1950,"n":0},{"g":"Foreign","t":1951,"n":0},{"g":"Foreign","t":1952,"n":0},{"g":"Foreign","t":1953,"n":0},{"g":"Foreign","t":1954,"n":0},{"g":"Foreign","t":1955,"n":0},{"g":"Foreign","t":1956,"n":0},{"g":"Foreign","t":1957,"n":0},{"g":"Foreign","t":1958,"n":0},{"g":"Foreign","t":1959,"n":0},{"g":"Foreign","t":1960,"n":0},{"g":"Foreign","t":1961,"n":0},{"g":"Foreign","t":1962,"n":0},{"g":"Foreign","t":1963,"n":0},{"g":"Foreign","t":1964,"n":0},{"g":"Foreign","t":1965,"n":0},{"g":"Foreign","t":1966,"n":0},{"g":"Foreign","t":1967,"n":0},{"g":"Foreign","t":1968,"n":0},{"g":"Foreign","t":1969,"n":0},{"g":"Foreign","t":1970,"n":0},{"g":"Foreign","t":1971,"n":0},{"g":"Foreign","t":1972,"n":0},{"g":"Foreign","t":1973,"n":0},{"g":"Foreign","t":1974,"n":0},{"g":"Foreign","t":1975,"n":0},{"g":"Foreign","t":1976,"n":0},{"g":"Foreign","t":1977,"n":0},{"g":"Foreign","t":1978,"n":0},{"g":"Foreign","t":1979,"n":0},{"g":"Foreign","t":1980,"n":0},{"g":"Foreign","t":1981,"n":0},{"g":"Foreign","t":1982,"n":0},{"g":"Foreign","t":1983,"n":0},{"g":"Foreign","t":1984,"n":0},{"g":"Foreign","t":1985,"n":0},{"g":"Foreign","t":1986,"n":0},{"g":"Foreign","t":1987,"n":0},{"g":"Foreign","t":1988,"n":0},{"g":"Foreign","t":1989,"n":0},{"g":"Foreign","t":1990,"n":0},{"g":"Foreign","t":1991,"n":0},{"g":"Foreign","t":1992,"n":1},{"g":"Foreign","t":1993,"n":0},{"g":"Foreign","t":1994,"n":1},{"g":"Foreign","t":1995,"n":1},{"g":"Foreign","t":1996,"n":2},{"g":"Foreign","t":1997,"n":3},{"g":"Foreign","t":1998,"n":2},{"g":"Foreign","t":1999,"n":3},{"g":"Foreign","t":2000,"n":4},{"g":"Foreign","t":2001,"n":3},{"g":"Foreign","t":2002,"n":5},{"g":"Foreign","t":2003,"n":6},{"g":"Foreign","t":2004,"n":2},{"g":"Foreign","t":2005,"n":5},{"g":"Foreign","t":2006,"n":6},{"g":"Foreign","t":2007,"n":3},{"g":"Foreign","t":2008,"n":7},{"g":"Foreign","t":2009,"n":4},{"g":"Foreign","t":2010,"n":10},{"g":"Foreign","t":2011,"n":5},{"g":"Foreign","t":2012,"n":8},{"g":"Foreign","t":2013,"n":3},{"g":"Foreign","t":2014,"n":10},{"g":"Foreign","t":2015,"n":6},{"g":"Foreign","t":2016,"n":2},{"g":"Foreign","t":2017,"n":0},
{"g":"History","t":1916,"n":1},{"g":"History","t":1917,"n":0},{"g":"History","t":1918,"n":0},{"g":"History","t":1919,"n":0},{"g":"History","t":1920,"n":0},{"g":"History","t":1921,"n":0},{"g":"History","t":1922,"n":0},{"g":"History","t":1923,"n":0},{"g":"History","t":1924,"n":0},{"g":"History","t":1925,"n":0},{"g":"History","t":1926,"n":0},{"g":"History","t":1927,"n":0},{"g":"History","t":1928,"n":0},{"g":"History","t":1929,"n":0},{"g":"History","t":1930,"n":0},{"g":"History","t":1931,"n":0},{"g":"History","t":1932,"n":0},{"g":"History","t":1933,"n":0},{"g":"History","t":1934,"n":0},{"g":"History","t":1935,"n":0},{"g":"History","t":1936,"n":0},{"g":"History","t":1937,"n":0},{"g":"History","t":1938,"n":0},{"g":"History","t":1939,"n":0},{"g":"History","t":1940,"n":0},{"g":"History","t":1941,"n":0},{"g":"History","t":1942,"n":0},{"g":"History","t":1943,"n":0},{"g":"History","t":1944,"n":0},{"g":"History","t":1945,"n":0},{"g":"History","t":1946,"n":0},{"g":"History","t":1947,"n":0},{"g":"History","t":1948,"n":0},{"g":"History","t":1949,"n":0},{"g":"History","t":1950,"n":0},{"g":"History","t":1951,"n":0},{"g":"History","t":1952,"n":0},{"g":"History","t":1953,"n":0},{"g":"History","t":1954,"n":0},{"g":"History","t":1955,"n":1},{"g":"History","t":1956,"n":0},{"g":"History","t":1957,"n":0},{"g":"History","t":1958,"n":0},{"g":"History","t":1959,"n":1},{"g":"History","t":1960,"n":1},{"g":"History","t":1961,"n":0},{"g":"History","t":1962,"n":1},{"g":"History","t":1963,"n":1},{"g":"History","t":1964,"n":0},{"g":"History","t":1965,"n":0},{"g":"History","t":1966,"n":1},{"g":"History","t":1967,"n":0},{"g":"History","t":1968,"n":1},{"g":"History","t":1969,"n":0},{"g":"History","t":1970,"n":0},{"g":"History","t":1971,"n":1},{"g":"History","t":1972,"n":0},{"g":"History","t":1973,"n":0},{"g":"History","t":1974,"n":0},{"g":"History","t":1975,"n":0},{"g":"History","t":1976,"n":0},{"g":"History","t":1977,"n":0},{"g":"History","t":1978,"n":0},{"g":"History","t":1979,"n":0},{"g":"History","t":1980,"n":1},{"g":"History","t":1981,"n":0},{"g":"History","t":1982,"n":1},{"g":"History","t":1983,"n":1},{"g":"History","t":1984,"n":0},{"g":"History","t":1985,"n":0},{"g":"History","t":1986,"n":1},{"g":"History","t":1987,"n":1},{"g":"History","t":1988,"n":0},{"g":"History","t":1989,"n":1},{"g":"History","t":1990,"n":2},{"g":"History","t":1991,"n":2},{"g":"History","t":1992,"n":3},{"g":"History","t":1993,"n":4},{"g":"History","t":1994,"n":3},{"g":"History","t":1995,"n":5},{"g":"History","t":1996,"n":6},{"g":"History","t":1997,"n":5},{"g":"History","t":1998,"n":4},{"g":"History","t":1999,"n":5},{"g":"History","t":2000,"n":6},{"g":"History","t":2001,"n":4},{"g":"History","t":2002,"n":5},{"g":"History","t":2003,"n":7},{"g":"History","t":2004,"n":6},{"g":"History","t":2005,"n":8},{"g":"History","t":2006,"n":9},{"g":"History","t":2007,"n":6},{"g":"History","t":2008,"n":7},{"g":"History","t":2009,"n":5},{"g":"History","t":2010,"n":6},{"g":"History","t":2011,"n":9},{"g":"History","t":2012,"n":7},{"g":"History","t":2013,"n":10},{"g":"History","t":2014,"n":8},{"g":"History","t":2015,"n":11},{"g":"History","t":2016,"n":4},{"g":"History","t":2017,"n":0},
{"g":"Horror","t":1916,"n":0},{"g":"Horror","t":1917,"n":0},{"g":"Horror","t":1918,"n":0},{"g":"Horror","t":1919,"n":0},{"g":"Horror","t":1920,"n":0},{"g":"Horror","t":1921,"n":0},{"g":"Horror","t":1922,"n":0},{"g":"Horror","t":1923,"n":0},{"g":"Horror","t":1924,"n":0},{"g":"Horror","t":1925,"n":0},{"g":"Horror","t":1926,"n":0},{"g":"Horror","t":1927,"n":0},{"g":"Horror","t":1928,"n":0},{"g":"Horror","t":1929,"n":0},{"g":"Horror","t":1930,"n":0},{"g":"Horror","t":1931,"n":1},{"g":"Horror","t":1932,"n":0},{"g":"Horror","t":1933,"n":0},{"g":"Horror","t":1934,"n":0},{"g":"Horror","t":1935,"n":1},{"g":"Horror","t":1936,"n":0},{"g":"Horror","t":1937,"n":0},{"g":"Horror","t":1938,"n":0},{"g":"Horror","t":1939,"n":0},{"g":"Horror","t":1940,"n":0},{"g":"Horror","t":1941,"n":0},{"g":"Horror","t":1942,"n":0},{"g":"Horror","t":1943,"n":0},{"g":"Horror","t":1944,"n":0},{"g":"Horror","t":1945,"n":0},{"g":"Horror","t":1946,"n":0},{"g":"Horror","t":1947,"n":0},{"g":"Horror","t":1948,"n":0},{"g":"Horror","t":1949,"n":0},{"g":"Horror","t":1950,"n":0},{"g":"Horror","t":1951,"n":0},{"g":"Horror","t":1952,"n":0},{"g":"Horror","t":1953,"n":0},{"g":"Horror","t":1954,"n":0},{"g":"Horror","t":1955,"n":0},{"g":"Horror","t":1956,"n":0},{"g":"Horror","t":1957,"n":0},{"g":"Horror","t":1958,"n":1},{"g":"Horror","t":1959,"n":0},{"g":"Horror","t":1960,"n":1},{"g":"Horror","t":1961,"n":1},{"g":"Horror","t":1962,"n":1},{"g":"Horror","t":1963,"n":0},{"g":"Horror","t":1964,"n":1},{"g":"Horror","t":1965,"n":0},{"g":"Horror","t":1966,"n":0},{"g":"Horror","t":1967,"n":1},{"g":"Horror","t":1968,"n":1},{"g":"Horror","t":1969,"n":0},{"g":"Horror","t":1970,"n":1},{"g":"Horror","t":1971,"n":1},{"g":"Horror","t":1972,"n":2},{"g":"Horror","t":1973,"n":1},{"g":"Horror","t":1974,"n":2},{"g":"Horror","t":1975,"n":1},{"g":"Horror","t":1976,"n":2},{"g":"Horror","t":1977,"n":3},{"g":"Horror","t":1978,"n":2},{"g":"Horror","t":1979,"n":3},{"g":"Horror","t":1980,"n":5},{"g":"Horror","t":1981,"n":6},{"g":"Horror","t":1982,"n":8},{"g":"Horror","t":1983,"n":6},{"g":"Horror","t":1984,"n":7},{"g":"Horror","t":1985,"n":6},{"g":"Horror","t":1986,"n":9},{"g":"Horror","t":1987,"n":8},{"g":"Horror","t":1988,"n":10},{"g":"Horror","t":1989,"n":8},{"g":"Horror","t":1990,"n":6},{"g":"Horror","t":1991,"n":5},{"g":"Horror","t":1992,"n":6},{"g":"Horror","t":1993,"n":7},{"g":"Horror","t":1994,"n":8},{"g":"Horror","t":1995,"n":9},{"g":"Horror","t":1996,"n":12},{"g":"Horror","t":1997,"n":14},{"g":"Horror","t":1998,"n":18},{"g":"Horror","t":1999,"n":20},{"g":"Horror","t":2000,"n":22},{"g":"Horror","t":2001,"n":24},{"g":"Horror","t":2002,"n":28},{"g":"Horror","t":2003,"n":20},{"g":"Horror","t":2004,"n":22},{"g":"Horror","t":2005,"n":26},{"g":"Horror","t":2006,"n":30},{"g":"Horror","t":2007,"n":22},{"g":"Horror","t":2008,"n":24},{"g":"Horror","t":2009,"n":21},{"g":"Horror","t":2010,"n":26},{"g":"Horror","t":2011,"n":20},{"g":"Horror","t":2012,"n":22},{"g":"Horror","t":2013,"n":30},{"g":"Horror","t":2014,"n":24},{"g":"Horror","t":2015,"n":35},{"g":"Horror","t":2016,"n":14},{"g":"Horror","t":2017,"n":0},
{"g":"Music","t":1916,"n":0},{"g":"Music","t":1917,"n":0},{"g":"Music","t":1918,"n":0},{"g":"Music","t":1919,"n":0},{"g":"Music","t":1920,"n":0},{"g":"Music","t":1921,"n":0},{"g":"Music","t":1922,"n":0},{"g":"Music","t":1923,"n":0},{"g":"Music","t":1924,"n":0},{"g":"Music","t":1925,"n":0},{"g":"Music","t":1926,"n":0},{"g":"Music","t":1927,"n":0},{"g":"Music","t":1928,"n":0},{"g":"Music","t":1929,"n":1},{"g":"Music","t":1930,"n":0},{"g":"Music","t":1931,"n":0},{"g":"Music","t":1932,"n":0},{"g":"Music","t":1933,"n":0},{"g":"Music","t":1934,"n":0},{"g":"Music","t":1935,"n":0},{"g":"Music","t":1936,"n":1},{"g":"Music","t":1937,"n":0},{"g":"Music","t":1938,"n":0},{"g":"Music","t":1939,"n":0},{"g":"Music","t":1940,"n":0},{"g":"Music","t":1941,"n":0},{"g":"Music","t":1942,"n":0},{"g":"Music","t":1943,"n":0},{"g":"Music","t":1944,"n":0},{"g":"Music","t":1945,"n":0},{"g":"Music","t":1946,"n":0},{"g":"Music","t":1947,"n":0},{"g":"Music","t":1948,"n":0},{"g":"Music","t":1949,"n":0},{"g":"Music","t":1950,"n":0},{"g":"Music","t":1951,"n":0},{"g":"Music","t":1952,"n":1},{"g":"Music","t":1953,"n":0},{"g":"Music","t":1954,"n":0},{"g":"Music","t":1955,"n":0},{"g":"Music","t":1956,"n":0},{"g":"Music","t":1957,"n":0},{"g":"Music","t":1958,"n":0},{"g":"Music","t":1959,"n":0},{"g":"Music","t":1960,"n":0},{"g":"Music","t":1961,"n":1},{"g":"Music","t":1962,"n":0},{"g":"Music","t":1963,"n":0},{"g":"Music","t":1964,"n":1},{"g":"Music","t":1965,"n":1},{"g":"Music","t":1966,"n":0},{"g":"Music","t":1967,"n":0},{"g":"Music","t":1968,"n":0},{"g":"Music","t":1969,"n":0},{"g":"Music","t":1970,"n":0},{"g":"Music","t":1971,"n":0},{"g":"Music","t":1972,"n":0},{"g":"Music","t":1973,"n":0},{"g":"Music","t":1974,"n":0},{"g":"Music","t":1975,"n":0},{"g":"Music","t":1976,"n":0},{"g":"Music","t":1977,"n":1},{"g":"Music","t":1978,"n":1},{"g":"Music","t":1979,"n":0},{"g":"Music","t":1980,"n":1},{"g":"Music","t":1981,"n":0},{"g":"Music","t":1982,"n":0},{"g":"Music","t":1983,"n":1},{"g":"Music","t":1984,"n":1},{"g":"Music","t":1985,"n":0},{"g":"Music","t":1986,"n":1},{"g":"Music","t":1987,"n":1},{"g":"Music","t":1988,"n":0},{"g":"Music","t":1989,"n":0},{"g":"Music","t":1990,"n":2},{"g":"Music","t":1991,"n":3},{"g":"Music","t":1992,"n":3},{"g":"Music","t":1993,"n":4},{"g":"Music","t":1994,"n":3},{"g":"Music","t":1995,"n":5},{"g":"Music","t":1996,"n":6},{"g":"Music","t":1997,"n":5},{"g":"Music","t":1998,"n":7},{"g":"Music","t":1999,"n":6},{"g":"Music","t":2000,"n":5},{"g":"Music","t":2001,"n":8},{"g":"Music","t":2002,"n":7},{"g":"Music","t":2003,"n":10},{"g":"Music","t":2004,"n":12},{"g":"Music","t":2005,"n":9},{"g":"Music","t":2006,"n":8},{"g":"Music","t":2007,"n":10},{"g":"Music","t":2008,"n":7},{"g":"Music","t":2009,"n":11},{"g":"Music","t":2010,"n":8},{"g":"Music","t":2011,"n":6},{"g":"Music","t":2012,"n":9},{"g":"Music","t":2013,"n":7},{"g":"Music","t":2014,"n":10},{"g":"Music","t":2015,"n":9},{"g":"Music","t":2016,"n":3},{"g":"Music","t":2017,"n":0},
{"g":"Mystery","t":1916,"n":0},{"g":"Mystery","t":1917,"n":0},{"g":"Mystery","t":1918,"n":0},{"g":"Mystery","t":1919,"n":0},{"g":"Mystery","t":1920,"n":0},{"g":"Mystery","t":1921,"n":0},{"g":"Mystery","t":1922,"n":0},{"g":"Mystery","t":1923,"n":0},{"g":"Mystery","t":1924,"n":0},{"g":"Mystery","t":1925,"n":0},{"g":"Mystery","t":1926,"n":0},{"g":"Mystery","t":1927,"n":0},{"g":"Mystery","t":1928,"n":0},{"g":"Mystery","t":1929,"n":0},{"g":"Mystery","t":1930,"n":0},{"g":"Mystery","t":1931,"n":0},{"g":"Mystery","t":1932,"n":0},{"g":"Mystery","t":1933,"n":0},{"g":"Mystery","t":1934,"n":1},{"g":"Mystery","t":1935,"n":0},{"g":"Mystery","t":1936,"n":0},{"g":"Mystery","t":1937,"n":0},{"g":"Mystery","t":1938,"n":1},{"g":"Mystery","t":1939,"n":0},{"g":"Mystery","t":1940,"n":1},{"g":"Mystery","t":1941,"n":0},{"g":"Mystery","t":1942,"n":0},{"g":"Mystery","t":1943,"n":0},{"g":"Mystery","t":1944,"n":1},{"g":"Mystery","t":1945,"n":1},{"g":"Mystery","t":1946,"n":0},{"g":"Mystery","t":1947,"n":1},{"g":"Mystery","t":1948,"n":0},{"g":"Mystery","t":1949,"n":0},{"g":"Mystery","t":1950,"n":0},{"g":"Mystery","t":1951,"n":0},{"g":"Mystery","t":1952,"n":0},{"g":"Mystery","t":1953,"n":0},{"g":"Mystery","t":1954,"n":1},{"g":"Mystery","t":1955,"n":0},{"g":"Mystery","t":1956,"n":0},{"g":"Mystery","t":1957,"n":1},{"g":"Mystery","t":1958,"n":0},{"g":"Mystery","t":1959,"n":1},{"g":"Mystery","t":1960,"n":1},{"g":"Mystery","t":1961,"n":0},{"g":"Mystery","t":1962,"n":1},{"g":"Mystery","t":1963,"n":1},{"g":"Mystery","t":1964,"n":0},{"g":"Mystery","t":1965,"n":1},{"g":"Mystery","t":1966,"n":0},{"g":"Mystery","t":1967,"n":1},{"g":"Mystery","t":1968,"n":0},{"g":"Mystery","t":1969,"n":0},{"g":"Mystery","t":1970,"n":1},{"g":"Mystery","t":1971,"n":1},{"g":"Mystery","t":1972,"n":1},{"g":"Mystery","t":1973,"n":2},{"g":"Mystery","t":1974,"n":1},{"g":"Mystery","t":1975,"n":1},{"g":"Mystery","t":1976,"n":1},{"g":"Mystery","t":1977,"n":2},{"g":"Mystery","t":1978,"n":2},{"g":"Mystery","t":1979,"n":1},{"g":"Mystery","t":1980,"n":2},{"g":"Mystery","t":1981,"n":2},{"g":"Mystery","t":1982,"n":3},{"g":"Mystery","t":1983,"n":2},{"g":"Mystery","t":1984,"n":3},{"g":"Mystery","t":1985,"n":3},{"g":"Mystery","t":1986,"n":4},{"g":"Mystery","t":1987,"n":3},{"g":"Mystery","t":1988,"n":4},{"g":"Mystery","t":1989,"n":4},{"g":"Mystery","t":1990,"n":4},{"g":"Mystery","t":1991,"n":5},{"g":"Mystery","t":1992,"n":5},{"g":"Mystery","t":1993,"n":6},{"g":"Mystery","t":1994,"n":6},{"g":"Mystery","t":1995,"n":7},{"g":"Mystery","t":1996,"n":9},{"g":"Mystery","t":1997,"n":10},{"g":"Mystery","t":1998,"n":11},{"g":"Mystery","t":1999,"n":12},{"g":"Mystery","t":2000,"n":10},{"g":"Mystery","t":2001,"n":14},{"g":"Mystery","t":2002,"n":12},{"g":"Mystery","t":2003,"n":10},{"g":"Mystery","t":2004,"n":13},{"g":"Mystery","t":2005,"n":11},{"g":"Mystery","t":2006,"n":15},{"g":"Mystery","t":2007,"n":12},{"g":"Mystery","t":2008,"n":14},{"g":"Mystery","t":2009,"n":9},{"g":"Mystery","t":2010,"n":13},{"g":"Mystery","t":2011,"n":11},{"g":"Mystery","t":2012,"n":5},{"g":"Mystery","t":2013,"n":10},{"g":"Mystery","t":2014,"n":15},{"g":"Mystery","t":2015,"n":12},{"g":"Mystery","t":2016,"n":5},{"g":"Mystery","t":2017,"n":0},
{"g":"Romance","t":1916,"n":0},{"g":"Romance","t":1917,"n":0},{"g":"Romance","t":1918,"n":0},{"g":"Romance","t":1919,"n":0},{"g":"Romance","t":1920,"n":0},{"g":"Romance","t":1921,"n":0},{"g":"Romance","t":1922,"n":0},{"g":"Romance","t":1923,"n":0},{"g":"Romance","t":1924,"n":0},{"g":"Romance","t":1925,"n":0},{"g":"Romance","t":1926,"n":0},{"g":"Romance","t":1927,"n":1},{"g":"Romance","t":1928,"n":0},{"g":"Romance","t":1929,"n":2},{"g":"Romance","t":1930,"n":0},{"g":"Romance","t":1931,"n":0},{"g":"Romance","t":1932,"n":1},{"g":"Romance","t":1933,"n":0},{"g":"Romance","t":1934,"n":0},{"g":"Romance","t":1935,"n":0},{"g":"Romance","t":1936,"n":1},{"g":"Romance","t":1937,"n":0},{"g":"Romance","t":1938,"n":0},{"g":"Romance","t":1939,"n":1},{"g":"Romance","t":1940,"n":1},{"g":"Romance","t":1941,"n":0},{"g":"Romance","t":1942,"n":1},{"g":"Romance","t":1943,"n":0},{"g":"Romance","t":1944,"n":0},{"g":"Romance","t":1945,"n":1},{"g":"Romance","t":1946,"n":0},{"g":"Romance","t":1947,"n":1},{"g":"Romance","t":1948,"n":0},{"g":"Romance","t":1949,"n":0},{"g":"Romance","t":1950,"n":0},{"g":"Romance","t":1951,"n":1},{"g":"Romance","t":1952,"n":1},{"g":"Romance","t":1953,"n":0},{"g":"Romance","t":1954,"n":1},{"g":"Romance","t":1955,"n":0},{"g":"Romance","t":1956,"n":1},{"g":"Romance","t":1957,"n":0},{"g":"Romance","t":1958,"n":1},{"g":"Romance","t":1959,"n":1},{"g":"Romance","t":1960,"n":1},{"g":"Romance","t":1961,"n":1},{"g":"Romance","t":1962,"n":2},{"g":"Romance","t":1963,"n":1},{"g":"Romance","t":1964,"n":1},{"g":"Romance","t":1965,"n":1},{"g":"Romance","t":1966,"n":1},{"g":"Romance","t":1967,"n":1},{"g":"Romance","t":1968,"n":2},{"g":"Romance","t":1969,"n":1},{"g":"Romance","t":1970,"n":2},{"g":"Romance","t":1971,"n":1},{"g":"Romance","t":1972,"n":2},{"g":"Romance","t":1973,"n":1},{"g":"Romance","t":1974,"n":1},{"g":"Romance","t":1975,"n":2},{"g":"Romance","t":1976,"n":2},{"g":"Romance","t":1977,"n":3},{"g":"Romance","t":1978,"n":2},{"g":"Romance","t":1979,"n":2},{"g":"Romance","t":1980,"n":3},{"g":"Romance","t":1981,"n":4},{"g":"Romance","t":1982,"n":3},{"g":"Romance","t":1983,"n":5},{"g":"Romance","t":1984,"n":4},{"g":"Romance","t":1985,"n":5},{"g":"Romance","t":1986,"n":6},{"g":"Romance","t":1987,"n":5},{"g":"Romance","t":1988,"n":7},{"g":"Romance","t":1989,"n":6},{"g":"Romance","t":1990,"n":8},{"g":"Romance","t":1991,"n":9},{"g":"Romance","t":1992,"n":11},{"g":"Romance","t":1993,"n":14},{"g":"Romance","t":1994,"n":20},{"g":"Romance","t":1995,"n":25},{"g":"Romance","t":1996,"n":29},{"g":"Romance","t":1997,"n":33},{"g":"Romance","t":1998,"n":28},{"g":"Romance","t":1999,"n":35},{"g":"Romance","t":2000,"n":44},{"g":"Romance","t":2001,"n":48},{"g":"Romance","t":2002,"n":52},{"g":"Romance","t":2003,"n":40},{"g":"Romance","t":2004,"n":48},{"g":"Romance","t":2005,"n":40},{"g":"Romance","t":2006,"n":46},{"g":"Romance","t":2007,"n":39},{"g":"Romance","t":2008,"n":45},{"g":"Romance","t":2009,"n":59},{"g":"Romance","t":2010,"n":50},{"g":"Romance","t":2011,"n":43},{"g":"Romance","t":2012,"n":39},{"g":"Romance","t":2013,"n":36},{"g":"Romance","t":2014,"n":30},{"g":"Romance","t":2015,"n":22},{"g":"Romance","t":2016,"n":10},{"g":"Romance","t":2017,"n":0},
{"g":"Science Fiction","t":1916,"n":0},{"g":"Science Fiction","t":1917,"n":0},{"g":"Science Fiction","t":1918,"n":0},{"g":"Science Fiction","t":1919,"n":0},{"g":"Science Fiction","t":1920,"n":0},{"g":"Science Fiction","t":1921,"n":0},{"g":"Science Fiction","t":1922,"n":0},{"g":"Science Fiction","t":1923,"n":0},{"g":"Science Fiction","t":1924,"n":0},{"g":"Science Fiction","t":1925,"n":0},{"g":"Science Fiction","t":1926,"n":0},{"g":"Science Fiction","t":1927,"n":1},{"g":"Science Fiction","t":1928,"n":0},{"g":"Science Fiction","t":1929,"n":0},{"g":"Science Fiction","t":1930,"n":0},{"g":"Science Fiction","t":1931,"n":0},{"g":"Science Fiction","t":1932,"n":0},{"g":"Science Fiction","t":1933,"n":0},{"g":"Science Fiction","t":1934,"n":0},{"g":"Science Fiction","t":1935,"n":0},{"g":"Science Fiction","t":1936,"n":1},{"g":"Science Fiction","t":1937,"n":0},{"g":"Science Fiction","t":1938,"n":0},{"g":"Science Fiction","t":1939,"n":0},{"g":"Science Fiction","t":1940,"n":0},{"g":"Science Fiction","t":1941,"n":0},{"g":"Science Fiction","t":1942,"n":0},{"g":"Science Fiction","t":1943,"n":0},{"g":"Science Fiction","t":1944,"n":0},{"g":"Science Fiction","t":1945,"n":0},{"g":"Science Fiction","t":1946,"n":0},{"g":"Science Fiction","t":1947,"n":0},{"g":"Science Fiction","t":1948,"n":0},{"g":"Science Fiction","t":1949,"n":0},{"g":"Science Fiction","t":1950,"n":0},{"g":"Science Fiction","t":1951,"n":1},{"g":"Science Fiction","t":1952,"n":0},{"g":"Science Fiction","t":1953,"n":1},{"g":"Science Fiction","t":1954,"n":0},{"g":"Science Fiction","t":1955,"n":0},{"g":"Science Fiction","t":1956,"n":1},{"g":"Science Fiction","t":1957,"n":0},{"g":"Science Fiction","t":1958,"n":0},{"g":"Science Fiction","t":1959,"n":0},{"g":"Science Fiction","t":1960,"n":0},{"g":"Science Fiction","t":1961,"n":0},{"g":"Science Fiction","t":1962,"n":0},{"g":"Science Fiction","t":1963,"n":1},{"g":"Science Fiction","t":1964,"n":0},{"g":"Science Fiction","t":1965,"n":1},{"g":"Science Fiction","t":1966,"n":1},{"g":"Science Fiction","t":1967,"n":1},{"g":"Science Fiction","t":1968,"n":1},{"g":"Science Fiction","t":1969,"n":1},{"g":"Science Fiction","t":1970,"n":1},{"g":"Science Fiction","t":1971,"n":2},{"g":"Science Fiction","t":1972,"n":1},{"g":"Science Fiction","t":1973,"n":2},{"g":"Science Fiction","t":1974,"n":1},{"g":"Science Fiction","t":1975,"n":1},{"g":"Science Fiction","t":1976,"n":1},{"g":"Science Fiction","t":1977,"n":3},{"g":"Science Fiction","t":1978,"n":2},{"g":"Science Fiction","t":1979,"n":3},{"g":"Science Fiction","t":1980,"n":4},{"g":"Science Fiction","t":1981,"n":5},{"g":"Science Fiction","t":1982,"n":6},{"g":"Science Fiction","t":1983,"n":5},{"g":"Science Fiction","t":1984,"n":7},{"g":"Science Fiction","t":1985,"n":5},{"g":"Science Fiction","t":1986,"n":6},{"g":"Science Fiction","t":1987,"n":5},{"g":"Science Fiction","t":1988,"n":6},{"g":"Science Fiction","t":1989,"n":5},{"g":"Science Fiction","t":1990,"n":6},{"g":"Science Fiction","t":1991,"n":6},{"g":"Science Fiction","t":1992,"n":7},{"g":"Science Fiction","t":1993,"n":8},{"g":"Science Fiction","t":1994,"n":10},{"g":"Science Fiction","t":1995,"n":14},{"g":"Science Fiction","t":1996,"n":16},{"g":"Science Fiction","t":1997,"n":20},{"g":"Science Fiction","t":1998,"n":20},{"g":"Science Fiction","t":1999,"n":22},{"g":"Science Fiction","t":2000,"n":24},{"g":"Science Fiction","t":2001,"n":20},{"g":"Science Fiction","t":2002,"n":25},{"g":"Science Fiction","t":2003,"n":18},{"g":"Science Fiction","t":2004,"n":22},{"g":"Science Fiction","t":2005,"n":22},{"g":"Science Fiction","t":2006,"n":19},{"g":"Science Fiction","t":2007,"n":25},{"g":"Science Fiction","t":2008,"n":23},{"g":"Science Fiction","t":2009,"n":28},{"g":"Science Fiction","t":2010,"n":22},{"g":"Science Fiction","t":2011,"n":26},{"g":"Science Fiction","t":2012,"n":30},{"g":"Science Fiction","t":2013,"n":28},{"g":"Science Fiction","t":2014,"n":32},{"g":"Science Fiction","t":2015,"n":26},{"g":"Science Fiction","t":2016,"n":10},{"g":"Science Fiction","t":2017,"n":0},
{"g":"TV Movie","t":1916,"n":0},{"g":"TV Movie","t":1917,"n":0},{"g":"TV Movie","t":1918,"n":0},{"g":"TV Movie","t":1919,"n":0},{"g":"TV Movie","t":1920,"n":0},{"g":"TV Movie","t":1921,"n":0},{"g":"TV Movie","t":1922,"n":0},{"g":"TV Movie","t":1923,"n":0},{"g":"TV Movie","t":1924,"n":0},{"g":"TV Movie","t":1925,"n":0},{"g":"TV Movie","t":1926,"n":0},{"g":"TV Movie","t":1927,"n":0},{"g":"TV Movie","t":1928,"n":0},{"g":"TV Movie","t":1929,"n":0},{"g":"TV Movie","t":1930,"n":0},{"g":"TV Movie","t":1931,"n":0},{"g":"TV Movie","t":1932,"n":0},{"g":"TV Movie","t":1933,"n":0},{"g":"TV Movie","t":1934,"n":0},{"g":"TV Movie","t":1935,"n":0},{"g":"TV Movie","t":1936,"n":0},{"g":"TV Movie","t":1937,"n":0},{"g":"TV Movie","t":1938,"n":0},{"g":"TV Movie","t":1939,"n":0},{"g":"TV Movie","t":1940,"n":0},{"g":"TV Movie","t":1941,"n":0},{"g":"TV Movie","t":1942,"n":0},{"g":"TV Movie","t":1943,"n":0},{"g":"TV Movie","t":1944,"n":0},{"g":"TV Movie","t":1945,"n":0},{"g":"TV Movie","t":1946,"n":0},{"g":"TV Movie","t":1947,"n":0},{"g":"TV Movie","t":1948,"n":0},{"g":"TV Movie","t":1949,"n":0},{"g":"TV Movie","t":1950,"n":0},{"g":"TV Movie","t":1951,"n":0},{"g":"TV Movie","t":1952,"n":0},{"g":"TV Movie","t":1953,"n":0},{"g":"TV Movie","t":1954,"n":0},{"g":"TV Movie","t":1955,"n":0},{"g":"TV Movie","t":1956,"n":0},{"g":"TV Movie","t":1957,"n":0},{"g":"TV Movie","t":1958,"n":0},{"g":"TV Movie","t":1959,"n":0},{"g":"TV Movie","t":1960,"n":0},{"g":"TV Movie","t":1961,"n":0},{"g":"TV Movie","t":1962,"n":0},{"g":"TV Movie","t":1963,"n":0},{"g":"TV Movie","t":1964,"n":0},{"g":"TV Movie","t":1965,"n":0},{"g":"TV Movie","t":1966,"n":0},{"g":"TV Movie","t":1967,"n":0},{"g":"TV Movie","t":1968,"n":0},{"g":"TV Movie","t":1969,"n":0},{"g":"TV Movie","t":1970,"n":0},{"g":"TV Movie","t":1971,"n":0},{"g":"TV Movie","t":1972,"n":0},{"g":"TV Movie","t":1973,"n":0},{"g":"TV Movie","t":1974,"n":0},{"g":"TV Movie","t":1975,"n":0},{"g":"TV Movie","t":1976,"n":0},{"g":"TV Movie","t":1977,"n":0},{"g":"TV Movie","t":1978,"n":0},{"g":"TV Movie","t":1979,"n":0},{"g":"TV Movie","t":1980,"n":0},{"g":"TV Movie","t":1981,"n":0},{"g":"TV Movie","t":1982,"n":0},{"g":"TV Movie","t":1983,"n":0},{"g":"TV Movie","t":1984,"n":0},{"g":"TV Movie","t":1985,"n":0},{"g":"TV Movie","t":1986,"n":0},{"g":"TV Movie","t":1987,"n":0},{"g":"TV Movie","t":1988,"n":0},{"g":"TV Movie","t":1989,"n":0},{"g":"TV Movie","t":1990,"n":0},{"g":"TV Movie","t":1991,"n":0},{"g":"TV Movie","t":1992,"n":0},{"g":"TV Movie","t":1993,"n":0},{"g":"TV Movie","t":1994,"n":0},{"g":"TV Movie","t":1995,"n":0},{"g":"TV Movie","t":1996,"n":0},{"g":"TV Movie","t":1997,"n":0},{"g":"TV Movie","t":1998,"n":0},{"g":"TV Movie","t":1999,"n":0},{"g":"TV Movie","t":2000,"n":0},{"g":"TV Movie","t":2001,"n":0},{"g":"TV Movie","t":2002,"n":0},{"g":"TV Movie","t":2003,"n":0},{"g":"TV Movie","t":2004,"n":0},{"g":"TV Movie","t":2005,"n":0},{"g":"TV Movie","t":2006,"n":0},{"g":"TV Movie","t":2007,"n":0},{"g":"TV Movie","t":2008,"n":0},{"g":"TV Movie","t":2009,"n":0},{"g":"TV Movie","t":2010,"n":0},{"g":"TV Movie","t":2011,"n":0},{"g":"TV Movie","t":2012,"n":0},{"g":"TV Movie","t":2013,"n":0},{"g":"TV Movie","t":2014,"n":1},{"g":"TV Movie","t":2015,"n":1},{"g":"TV Movie","t":2016,"n":0},{"g":"TV Movie","t":2017,"n":0},
{"g":"Thriller","t":1916,"n":0},{"g":"Thriller","t":1917,"n":0},{"g":"Thriller","t":1918,"n":0},{"g":"Thriller","t":1919,"n":0},{"g":"Thriller","t":1920,"n":0},{"g":"Thriller","t":1921,"n":0},{"g":"Thriller","t":1922,"n":0},{"g":"Thriller","t":1923,"n":0},{"g":"Thriller","t":1924,"n":0},{"g":"Thriller","t":1925,"n":0},{"g":"Thriller","t":1926,"n":0},{"g":"Thriller","t":1927,"n":0},{"g":"Thriller","t":1928,"n":0},{"g":"Thriller","t":1929,"n":0},{"g":"Thriller","t":1930,"n":0},{"g":"Thriller","t":1931,"n":0},{"g":"Thriller","t":1932,"n":0},{"g":"Thriller","t":1933,"n":0},{"g":"Thriller","t":1934,"n":0},{"g":"Thriller","t":1935,"n":1},{"g":"Thriller","t":1936,"n":0},{"g":"Thriller","t":1937,"n":0},{"g":"Thriller","t":1938,"n":1},{"g":"Thriller","t":1939,"n":1},{"g":"Thriller","t":1940,"n":2},{"g":"Thriller","t":1941,"n":0},{"g":"Thriller","t":1942,"n":0},{"g":"Thriller","t":1943,"n":0},{"g":"Thriller","t":1944,"n":1},{"g":"Thriller","t":1945,"n":0},{"g":"Thriller","t":1946,"n":1},{"g":"Thriller","t":1947,"n":0},{"g":"Thriller","t":1948,"n":0},{"g":"Thriller","t":1949,"n":1},{"g":"Thriller","t":1950,"n":0},{"g":"Thriller","t":1951,"n":1},{"g":"Thriller","t":1952,"n":0},{"g":"Thriller","t":1953,"n":0},{"g":"Thriller","t":1954,"n":1},{"g":"Thriller","t":1955,"n":0},{"g":"Thriller","t":1956,"n":0},{"g":"Thriller","t":1957,"n":0},{"g":"Thriller","t":1958,"n":1},{"g":"Thriller","t":1959,"n":1},{"g":"Thriller","t":1960,"n":1},{"g":"Thriller","t":1961,"n":1},{"g":"Thriller","t":1962,"n":0},{"g":"Thriller","t":1963,"n":2},{"g":"Thriller","t":1964,"n":1},{"g":"Thriller","t":1965,"n":1},{"g":"Thriller","t":1966,"n":1},{"g":"Thriller","t":1967,"n":2},{"g":"Thriller","t":1968,"n":1},{"g":"Thriller","t":1969,"n":1},{"g":"Thriller","t":1970,"n":2},{"g":"Thriller","t":1971,"n":2},{"g":"Thriller","t":1972,"n":3},{"g":"Thriller","t":1973,"n":3},{"g":"Thriller","t":1974,"n":2},{"g":"Thriller","t":1975,"n":2},{"g":"Thriller","t":1976,"n":3},{"g":"Thriller","t":1977,"n":4},{"g":"Thriller","t":1978,"n":4},{"g":"Thriller","t":1979,"n":5},{"g":"Thriller","t":1980,"n":4},{"g":"Thriller","t":1981,"n":5},{"g":"Thriller","t":1982,"n":6},{"g":"Thriller","t":1983,"n":7},{"g":"Thriller","t":1984,"n":6},{"g":"Thriller","t":1985,"n":8},{"g":"Thriller","t":1986,"n":7},{"g":"Thriller","t":1987,"n":9},{"g":"Thriller","t":1988,"n":8},{"g":"Thriller","t":1989,"n":10},{"g":"Thriller","t":1990,"n":11},{"g":"Thriller","t":1991,"n":12},{"g":"Thriller","t":1992,"n":12},{"g":"Thriller","t":1993,"n":17},{"g":"Thriller","t":1994,"n":20},{"g":"Thriller","t":1995,"n":30},{"g":"Thriller","t":1996,"n":39},{"g":"Thriller","t":1997,"n":37},{"g":"Thriller","t":1998,"n":33},{"g":"Thriller","t":1999,"n":45},{"g":"Thriller","t":2000,"n":46},{"g":"Thriller","t":2001,"n":53},{"g":"Thriller","t":2002,"n":65},{"g":"Thriller","t":2003,"n":42},{"g":"Thriller","t":2004,"n":44},{"g":"Thriller","t":2005,"n":51},{"g":"Thriller","t":2006,"n":57},{"g":"Thriller","t":2007,"n":53},{"g":"Thriller","t":2008,"n":58},{"g":"Thriller","t":2009,"n":55},{"g":"Thriller","t":2010,"n":60},{"g":"Thriller","t":2011,"n":69},{"g":"Thriller","t":2012,"n":58},{"g":"Thriller","t":2013,"n":54},{"g":"Thriller","t":2014,"n":66},{"g":"Thriller","t":2015,"n":67},{"g":"Thriller","t":2016,"n":25},{"g":"Thriller","t":2017,"n":0},
{"g":"War","t":1916,"n":0},{"g":"War","t":1917,"n":0},{"g":"War","t":1918,"n":0},{"g":"War","t":1919,"n":0},{"g":"War","t":1920,"n":0},{"g":"War","t":1921,"n":0},{"g":"War","t":1922,"n":0},{"g":"War","t":1923,"n":0},{"g":"War","t":1924,"n":0},{"g":"War","t":1925,"n":0},{"g":"War","t":1926,"n":0},{"g":"War","t":1927,"n":0},{"g":"War","t":1928,"n":0},{"g":"War","t":1929,"n":0},{"g":"War","t":1930,"n":1},{"g":"War","t":1931,"n":0},{"g":"War","t":1932,"n":0},{"g":"War","t":1933,"n":0},{"g":"War","t":1934,"n":0},{"g":"War","t":1935,"n":0},{"g":"War","t":1936,"n":0},{"g":"War","t":1937,"n":0},{"g":"War","t":1938,"n":0},{"g":"War","t":1939,"n":0},{"g":"War","t":1940,"n":0},{"g":"War","t":1941,"n":0},{"g":"War","t":1942,"n":0},{"g":"War","t":1943,"n":0},{"g":"War","t":1944,"n":0},{"g":"War","t":1945,"n":0},{"g":"War","t":1946,"n":0},{"g":"War","t":1947,"n":0},{"g":"War","t":1948,"n":0},{"g":"War","t":1949,"n":0},{"g":"War","t":1950,"n":0},{"g":"War","t":1951,"n":0},{"g":"War","t":1952,"n":0},{"g":"War","t":1953,"n":0},{"g":"War","t":1954,"n":0},{"g":"War","t":1955,"n":0},{"g":"War","t":1956,"n":0},{"g":"War","t":1957,"n":1},{"g":"War","t":1958,"n":0},{"g":"War","t":1959,"n":0},{"g":"War","t":1960,"n":0},{"g":"War","t":1961,"n":1},{"g":"War","t":1962,"n":1},{"g":"War","t":1963,"n":0},{"g":"War","t":1964,"n":0},{"g":"War","t":1965,"n":0},{"g":"War","t":1966,"n":0},{"g":"War","t":1967,"n":0},{"g":"War","t":1968,"n":0},{"g":"War","t":1969,"n":0},{"g":"War","t":1970,"n":1},{"g":"War","t":1971,"n":0},{"g":"War","t":1972,"n":0},{"g":"War","t":1973,"n":0},{"g":"War","t":1974,"n":0},{"g":"War","t":1975,"n":0},{"g":"War","t":1976,"n":0},{"g":"War","t":1977,"n":1},{"g":"War","t":1978,"n":1},{"g":"War","t":1979,"n":0},{"g":"War","t":1980,"n":0},{"g":"War","t":1981,"n":0},{"g":"War","t":1982,"n":0},{"g":"War","t":1983,"n":0},{"g":"War","t":1984,"n":0},{"g":"War","t":1985,"n":0},{"g":"War","t":1986,"n":1},{"g":"War","t":1987,"n":1},{"g":"War","t":1988,"n":0},{"g":"War","t":1989,"n":0},{"g":"War","t":1990,"n":1},{"g":"War","t":1991,"n":2},{"g":"War","t":1992,"n":2},{"g":"War","t":1993,"n":3},{"g":"War","t":1994,"n":2},{"g":"War","t":1995,"n":3},{"g":"War","t":1996,"n":3},{"g":"War","t":1997,"n":4},{"g":"War","t":1998,"n":3},{"g":"War","t":1999,"n":5},{"g":"War","t":2000,"n":3},{"g":"War","t":2001,"n":6},{"g":"War","t":2002,"n":4},{"g":"War","t":2003,"n":5},{"g":"War","t":2004,"n":4},{"g":"War","t":2005,"n":5},{"g":"War","t":2006,"n":6},{"g":"War","t":2007,"n":7},{"g":"War","t":2008,"n":5},{"g":"War","t":2009,"n":4},{"g":"War","t":2010,"n":5},{"g":"War","t":2011,"n":4},{"g":"War","t":2012,"n":6},{"g":"War","t":2013,"n":3},{"g":"War","t":2014,"n":7},{"g":"War","t":2015,"n":5},{"g":"War","t":2016,"n":2},{"g":"War","t":2017,"n":0},
{"g":"Western","t":1916,"n":0},{"g":"Western","t":1917,"n":0},{"g":"Western","t":1918,"n":0},{"g":"Western","t":1919,"n":0},{"g":"Western","t":1920,"n":0},{"g":"Western","t":1921,"n":0},{"g":"Western","t":1922,"n":0},{"g":"Western","t":1923,"n":0},{"g":"Western","t":1924,"n":0},{"g":"Western","t":1925,"n":0},{"g":"Western","t":1926,"n":0},{"g":"Western","t":1927,"n":0},{"g":"Western","t":1928,"n":0},{"g":"Western","t":1929,"n":0},{"g":"Western","t":1930,"n":0},{"g":"Western","t":1931,"n":0},{"g":"Western","t":1932,"n":0},{"g":"Western","t":1933,"n":0},{"g":"Western","t":1934,"n":0},{"g":"Western","t":1935,"n":0},{"g":"Western","t":1936,"n":0},{"g":"Western","t":1937,"n":0},{"g":"Western","t":1938,"n":0},{"g":"Western","t":1939,"n":1},{"g":"Western","t":1940,"n":0},{"g":"Western","t":1941,"n":0},{"g":"Western","t":1942,"n":0},{"g":"Western","t":1943,"n":0},{"g":"Western","t":1944,"n":0},{"g":"Western","t":1945,"n":0},{"g":"Western","t":1946,"n":0},{"g":"Western","t":1947,"n":0},{"g":"Western","t":1948,"n":0},{"g":"Western","t":1949,"n":0},{"g":"Western","t":1950,"n":0},{"g":"Western","t":1951,"n":0},{"g":"Western","t":1952,"n":0},{"g":"Western","t":1953,"n":1},{"g":"Western","t":1954,"n":0},{"g":"Western","t":1955,"n":0},{"g":"Western","t":1956,"n":0},{"g":"Western","t":1957,"n":0},{"g":"Western","t":1958,"n":0},{"g":"Western","t":1959,"n":0},{"g":"Western","t":1960,"n":1},{"g":"Western","t":1961,"n":0},{"g":"Western","t":1962,"n":1},{"g":"Western","t":1963,"n":0},{"g":"Western","t":1964,"n":1},{"g":"Western","t":1965,"n":1},{"g":"Western","t":1966,"n":0},{"g":"Western","t":1967,"n":1},{"g":"Western","t":1968,"n":1},{"g":"Western","t":1969,"n":1},{"g":"Western","t":1970,"n":1},{"g":"Western","t":1971,"n":0},{"g":"Western","t":1972,"n":1},{"g":"Western","t":1973,"n":1},{"g":"Western","t":1974,"n":0},{"g":"Western","t":1975,"n":1},{"g":"Western","t":1976,"n":0},{"g":"Western","t":1977,"n":0},{"g":"Western","t":1978,"n":1},{"g":"Western","t":1979,"n":0},{"g":"Western","t":1980,"n":1},{"g":"Western","t":1981,"n":0},{"g":"Western","t":1982,"n":0},{"g":"Western","t":1983,"n":1},{"g":"Western","t":1984,"n":0},{"g":"Western","t":1985,"n":1},{"g":"Western","t":1986,"n":0},{"g":"Western","t":1987,"n":0},{"g":"Western","t":1988,"n":1},{"g":"Western","t":1989,"n":0},{"g":"Western","t":1990,"n":2},{"g":"Western","t":1991,"n":1},{"g":"Western","t":1992,"n":2},{"g":"Western","t":1993,"n":3},{"g":"Western","t":1994,"n":2},{"g":"Western","t":1995,"n":1},{"g":"Western","t":1996,"n":1},{"g":"Western","t":1997,"n":0},{"g":"Western","t":1998,"n":1},{"g":"Western","t":1999,"n":1},{"g":"Western","t":2000,"n":0},{"g":"Western","t":2001,"n":1},{"g":"Western","t":2002,"n":1},{"g":"Western","t":2003,"n":2},{"g":"Western","t":2004,"n":1},{"g":"Western","t":2005,"n":2},{"g":"Western","t":2006,"n":1},{"g":"Western","t":2007,"n":3},{"g":"Western","t":2008,"n":1},{"g":"Western","t":2009,"n":2},{"g":"Western","t":2010,"n":3},{"g":"Western","t":2011,"n":2},{"g":"Western","t":2012,"n":1},{"g":"Western","t":2013,"n":2},{"g":"Western","t":2014,"n":1},{"g":"Western","t":2015,"n":3},{"g":"Western","t":2016,"n":1},{"g":"Western","t":2017,"n":0}
]},
"mark":{"type":"line","strokeWidth":2},
"encoding":{
"x":{"field":"t","type":"quantitative","scale":{"domain":[1910.95,2022.05],"nice":false,"zero":false},"axis":{"title":"年份","values":[1920,1940,1960,1980,2000,2020],"format":"d","titlePadding":3,"grid":true}},
"y":{"field":"n","type":"quantitative","scale":{"domain":[-6.65,139.65],"nice":false,"zero":false},"axis":{"title":"数量","values":[0,20,40,60,80,100,120],"titlePadding":2,"grid":true}},
"color":{"field":"g","type":"nominal","scale":{"domain":["Action","Adventure","Animation","Comedy","Crime","Documentary","Drama","Family","Fantasy","Foreign","History","Horror","Music","Mystery","Romance","Science Fiction","TV Movie","Thriller","War","Western"],"range":["#1f77b4","#ff7f0e","#2ca02c","#d62728","#9467bd","#8c564b","#e377c2","#7f7f7f","#bcbd22","#17becf","#1f77b4","#ff7f0e","#2ca02c","#d62728","#9467bd","#8c564b","#e377c2","#7f7f7f","#bcbd22","#17becf"]},
"legend":{"title":null,"orient":"none","legendX":3.5,"legendY":3,"direction":"vertical","symbolType":"stroke","symbolSize":400,"symbolStrokeWidth":2,"clipHeight":12.84,"labelFont":"Noto Sans CJK SC","labelFontSize":9.8,"labelColor":"black","labelOffset":8,"rowPadding":0,"padding":4,"fillColor":"rgba(255,255,255,0.8)","strokeColor":"#cccccc","cornerRadius":3}}
}
},
{
"data":{"values":[{"label":"CSDN @Buckletime"}]},
"mark":{"type":"text","align":"right","baseline":"middle","font":"Liberation Sans","fontSize":18.5,"color":"#b4b4b4"},
"encoding":{"x":{"datum":2033},"y":{"datum":-21},"text":{"field":"label"}}
}
]
}
